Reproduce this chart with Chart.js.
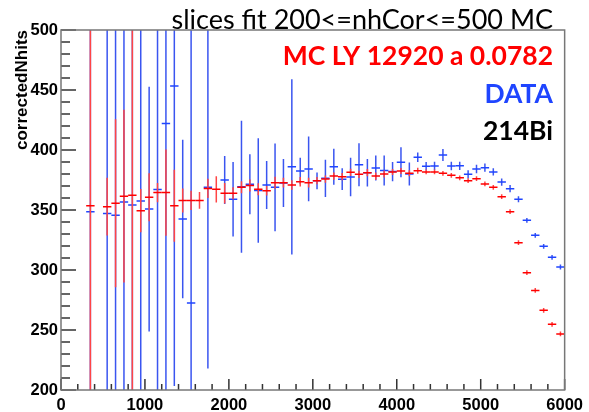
<!DOCTYPE html>
<html>
<head>
<meta charset="utf-8">
<script src="https://cdn.jsdelivr.net/npm/chart.js@4.4.1/dist/chart.umd.min.js"></script>
<style>
  html, body { margin: 0; padding: 0; background: #fff; }
</style>
</head>
<body>
<canvas id="slices" width="589" height="412"></canvas>
<script>
// bin centres (bin width 100)
const bins = [350, 450, 550, 650, 750, 850, 950, 1050, 1150, 1250, 1350, 1450, 1550, 1650, 1750, 1850,
  1950, 2050, 2150, 2250, 2350, 2450, 2550, 2650, 2750, 2850, 2950, 3050, 3150, 3250, 3350, 3450,
  3550, 3650, 3750, 3850, 3950, 4050, 4150, 4250, 4350, 4450, 4550, 4650, 4750, 4850, 4950, 5050,
  5150, 5250, 5350, 5450, 5550, 5650, 5750, 5850, 5950];

const mcValues = [353.6, null, 352.8, 355.6, 361.5, 362.3, 349.4, 360.6, 364.5, 364.5, 353.5, 358.0, 358.0, 358.0, 368.0, 367.2,
  363.9, 363.9, 368.9, 370.4, 367.2, 366.1, 372.8, 372.8, 370.8, 373.6, 372.8, 374.4, 375.8, 378.3, 377.8, 381.4,
  379.7, 381.1, 378.3, 380.0, 381.7, 382.5, 380.6, 382.8, 381.7, 381.7, 380.6, 378.9, 376.8, 374.4, 376.1, 371.7,
  368.9, 361.1, 348.6, 322.8, 297.8, 283.0, 266.4, 254.7, 246.7];
const mcErrors = [250, null, 24, 70, 72, 250, 18, 20, 8, 36, 30, 10, 8, 7, 8, 11,
  8.5, 5, 5, 5, 5, 4, 5, 4, 4, 4, 4, 3, 3, 3, 3, 3,
  3, 3, 3, 3, 2.5, 2.5, 2.5, 2.5, 2, 2, 2, 2, 2, 2, 2, 2,
  2, 2, 2, 2, 2, 2, 2, 2, 2];

const dataValues = [348.6, null, 347.1, 345.7, 356.7, 354.1, 357.6, 350.8, 367.0, 422.0, 453.3, 342.5, 272.5, null, 369.0, null,
  375.0, 358.9, 369.4, 371.4, 366.3, 370.8, 368.9, 372.5, 386.0, 382.5, 384.2, 374.3, 376.4, 386.0, 375.7, 377.5,
  387.7, 381.0, 385.0, 383.0, 382.0, 389.8, 380.0, 393.9, 386.5, 386.7, 395.8, 386.7, 386.8, 379.7, 384.2, 385.3,
  381.7, 373.3, 367.8, 358.9, 341.4, 328.9, 319.7, 310.6, 302.5];
const dataErrors = [250, null, 250, 250, 250, 200, 250, 102, 250, 250, 250, 66, 250, null, 151, null,
  20, 31, 55, 25, 43.5, 20, 36.6, 20, 73, 11, 27, 7, 15.5, 15, 9, 16,
  18, 11.5, 10.5, 12.5, 8, 12.5, 9.5, 4, 3.5, 3.5, 5, 3.5, 3.5, 3.5, 3.5, 3.5,
  3, 3, 3, 2.5, 2, 2, 2, 2, 2];

const binHalfWidth = 50;
const titleText = 'slices fit 200<=nhCor<=500 MC';
const legendTexts = ['MC LY 12920 a 0.0782', 'DATA', '214Bi'];

function points(values, errors) {
  return bins.map((b, i) => ({ x: b, y: values[i], err: errors[i] }));
}

// ROOT style: horizontal bar = bin width, vertical bar = error
const errorBars = {
  id: 'errorBars',
  afterDatasetsDraw(chart) {
    const { ctx, chartArea: a, scales: { x, y } } = chart;
    ctx.save();
    ctx.beginPath();
    ctx.rect(a.left, a.top, a.right - a.left, a.bottom - a.top);
    ctx.clip();
    ctx.lineWidth = 1.5;
    chart.data.datasets.forEach(ds => {
      ds.data.forEach(p => {
        if (p.y == null) return;
        const px = x.getPixelForValue(p.x);
        const py = y.getPixelForValue(p.y);
        ctx.strokeStyle = ds.errorColor;
        ctx.beginPath();
        ctx.moveTo(px, y.getPixelForValue(p.y - p.err));
        ctx.lineTo(px, y.getPixelForValue(p.y + p.err));
        ctx.stroke();
        ctx.strokeStyle = ds.borderColor;
        ctx.beginPath();
        ctx.moveTo(x.getPixelForValue(p.x - binHalfWidth), py);
        ctx.lineTo(x.getPixelForValue(p.x + binHalfWidth), py);
        ctx.stroke();
      });
    });
    ctx.restore();
  }
};

// frame, inward ticks and the text boxes
const rootFrame = {
  id: 'rootFrame',
  afterDraw(chart) {
    const { ctx, chartArea: a, scales: { x, y } } = chart;
    ctx.save();
    ctx.strokeStyle = '#333';
    ctx.lineWidth = 1.5;
    ctx.beginPath();
    x.ticks.forEach(t => {
      const px = x.getPixelForValue(t.value);
      const len = t.value % 1000 === 0 ? 11 : 6;
      ctx.moveTo(px, a.bottom);
      ctx.lineTo(px, a.bottom - len);
    });
    y.ticks.forEach(t => {
      const py = y.getPixelForValue(t.value);
      const len = t.value % 50 === 0 ? 15 : 9;
      ctx.moveTo(a.left, py);
      ctx.lineTo(a.left + len, py);
    });
    ctx.stroke();
    ctx.strokeStyle = '#777';
    ctx.strokeRect(a.left, a.top, a.right - a.left, a.bottom - a.top);

    ctx.textAlign = 'right';
    ctx.textBaseline = 'alphabetic';
    ctx.fillStyle = '#000';
    ctx.font = '27px Lato';
    ctx.fillText(titleText, 553, 29);
    ctx.font = 'bold 26.5px Lato';
    const colors = ['#ff0000', '#1f45ff', '#000000'];
    const baselines = [65, 103, 140];
    legendTexts.forEach((t, i) => {
      ctx.fillStyle = colors[i];
      ctx.fillText(t, 553, baselines[i]);
    });
    ctx.restore();
  }
};

const tickFont = { family: 'Liberation Sans', size: 16.5, weight: 'bold' };

new Chart(document.getElementById('slices'), {
  type: 'scatter',
  data: {
    datasets: [
      {
        label: 'DATA',
        data: points(dataValues, dataErrors),
        borderColor: '#1f45ff',
        errorColor: '#3a55f0',
        pointRadius: 0
      },
      {
        label: 'MC',
        data: points(mcValues, mcErrors),
        borderColor: '#ff0000',
        errorColor: '#ff4545',
        pointRadius: 0
      }
    ]
  },
  options: {
    responsive: false,
    animation: false,
    layout: { padding: { top: 30, right: 24, left: 0, bottom: 0 } },
    plugins: { legend: { display: false }, tooltip: { enabled: false } },
    scales: {
      x: {
        type: 'linear',
        min: 0,
        max: 6000,
        grid: { display: false, drawTicks: false },
        border: { display: false },
        afterFit(scale) { scale.height = 22; },
        ticks: {
          stepSize: 200,
          autoSkip: false,
          maxRotation: 0,
          padding: 6,
          color: '#000',
          font: tickFont,
          callback: v => (v % 1000 === 0 ? String(v) : '')
        }
      },
      y: {
        min: 200,
        max: 500,
        grid: { display: false, drawTicks: false },
        border: { display: false },
        afterFit(scale) { scale.width = 61; },
        title: {
          display: true,
          text: 'correctedNhits',
          align: 'end',
          color: '#000',
          font: { family: 'Liberation Sans', size: 17, weight: 'bold' },
          padding: { top: 12, bottom: 0 }
        },
        ticks: {
          stepSize: 10,
          autoSkip: false,
          padding: 3,
          color: '#000',
          font: tickFont,
          callback: v => (v % 50 === 0 ? String(v) : '')
        }
      }
    }
  },
  plugins: [errorBars, rootFrame]
});
</script>
</body>
</html>
